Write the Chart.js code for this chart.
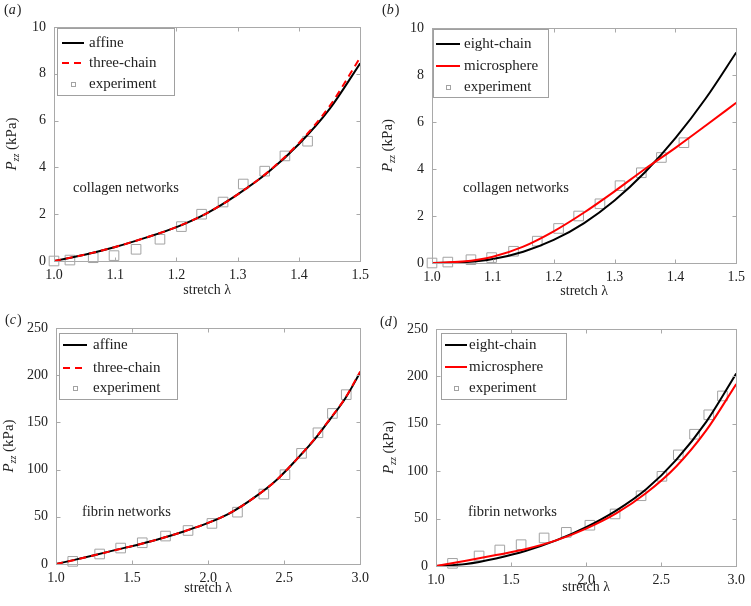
<!DOCTYPE html>
<html>
<head>
<meta charset="utf-8">
<script src="https://cdn.jsdelivr.net/npm/chart.js@4.4.0/dist/chart.umd.min.js"></script>
<style>
  body { margin: 0; background: #fff; width: 751px; height: 606px; position: relative; overflow: hidden; }
  canvas { position: absolute; }
</style>
</head>
<body>
<canvas id="pa" width="375" height="300" style="left:0;top:0"></canvas>
<canvas id="pb" width="376" height="300" style="left:375px;top:0"></canvas>
<canvas id="pc" width="375" height="306" style="left:0;top:300px"></canvas>
<canvas id="pd" width="376" height="306" style="left:375px;top:300px"></canvas>
<script>
// collagen networks (a, b)
const colStretchExp = [1.0, 1.026, 1.064, 1.098, 1.134, 1.173, 1.208, 1.241, 1.276, 1.309, 1.344, 1.377, 1.414];
const colExp = [0.0, 0.04, 0.14, 0.23, 0.5, 0.93, 1.47, 2.0, 2.52, 3.29, 3.84, 4.49, 5.12];
const colStretch = [1.0, 1.05, 1.1, 1.15, 1.2, 1.25, 1.3, 1.35, 1.4, 1.45, 1.5];
const colAffine = [0, 0.27, 0.6, 1.0, 1.45, 2.05, 2.85, 3.8, 5.0, 6.5, 8.45];
const colThreeChain = [0, 0.27, 0.6, 1.0, 1.45, 2.05, 2.85, 3.82, 5.05, 6.62, 8.7];
const colEightChain = [0, 0.03, 0.17, 0.48, 0.98, 1.7, 2.66, 3.86, 5.31, 7.01, 8.96];
const colMicrosphere = [0, 0.06, 0.27, 0.7, 1.35, 2.15, 3.05, 4.0, 4.9, 5.85, 6.82];

// fibrin networks (c, d)
const fibStretchExp = [1.11, 1.287, 1.425, 1.567, 1.72, 1.868, 2.025, 2.193, 2.366, 2.505, 2.614, 2.722, 2.817, 2.908];
const fibExp = [2.8, 10.6, 16.9, 22.5, 29.6, 35.5, 43.0, 54.9, 74.1, 94.6, 117.2, 139.0, 159.5, 179.4];
const fibStretch = [1.0, 1.1, 1.25, 1.4, 1.55, 1.7, 1.85, 2.0, 2.15, 2.3, 2.45, 2.6, 2.7, 2.8, 2.9, 3.0];
const fibAffine = [0, 3.6, 9.3, 15.2, 21, 27.5, 35, 43.5, 54.5, 70, 89, 114, 132, 153, 175, 203];
const fibThreeChain = [0, 3.5, 9.2, 15.1, 21, 27.5, 35, 43.6, 54.6, 70, 89, 114, 132.5, 153.5, 175.5, 204];
const fibStretchModel = [1.0, 1.2, 1.4, 1.6, 1.8, 2.0, 2.2, 2.4, 2.6, 2.8, 3.0];
const fibEightChain = [0, 2.2, 8, 16, 27, 41, 58.5, 81, 112, 152, 203];
const fibMicrosphere = [0, 5.5, 11.5, 18, 27, 39.5, 55.5, 77, 105, 143, 192];

const SERIF = "'Liberation Serif', 'Times New Roman', serif";
const TXT = '#222';

const pts = (xs, ys) => xs.map((x, i) => ({ x: x, y: ys[i] }));

function curve(label, xs, ys, color, dash, order) {
  return {
    label: label, data: pts(xs, ys), borderColor: color, borderWidth: 2,
    borderDash: dash, pointRadius: 0, cubicInterpolationMode: 'monotone', order: order
  };
}
function expSet(xs, ys) {
  return {
    label: 'experiment', data: pts(xs, ys), showLine: false, pointStyle: 'rect',
    pointRadius: 6.8, borderColor: '#a3a3a3', borderWidth: 1,
    backgroundColor: 'rgba(0,0,0,0)', clip: false, order: 2
  };
}

// box, inward ticks, y title, panel letter, note and legend
const panelPlugin = {
  id: 'panel',
  afterDraw(chart, args, o) {
    const ctx = chart.ctx, a = chart.chartArea;
    const xs = chart.scales.x, ys = chart.scales.y;
    ctx.save();
    ctx.strokeStyle = '#a9a9a9';
    ctx.lineWidth = 1;
    const L = Math.round(a.left) + 0.5, R = Math.round(a.right) + 0.5;
    const T = Math.round(a.top) + 0.5, B = Math.round(a.bottom) + 0.5;
    ctx.strokeRect(L, T, R - L, B - T);
    ctx.beginPath();
    xs.ticks.forEach(t => {
      const p = Math.round(xs.getPixelForValue(t.value)) + 0.5;
      ctx.moveTo(p, B); ctx.lineTo(p, B - 4);
      ctx.moveTo(p, T); ctx.lineTo(p, T + 4);
    });
    ys.ticks.forEach(t => {
      const p = Math.round(ys.getPixelForValue(t.value)) + 0.5;
      ctx.moveTo(L, p); ctx.lineTo(L + 4, p);
      ctx.moveTo(R, p); ctx.lineTo(R - 4, p);
    });
    ctx.stroke();

    ctx.fillStyle = TXT;
    // y title: P_zz (kPa)
    ctx.save();
    ctx.translate(o.yTitleX, (a.top + a.bottom) / 2);
    ctx.rotate(-Math.PI / 2);
    ctx.textBaseline = 'alphabetic';
    const fP = 'italic 15px ' + SERIF, fS = 'italic 10px ' + SERIF, fU = '15px ' + SERIF;
    ctx.font = fP; const wP = ctx.measureText('P').width;
    ctx.font = fS; const wS = ctx.measureText('zz').width;
    ctx.font = fU; const wU = ctx.measureText(' (kPa)').width;
    let x0 = -(wP + wS + wU) / 2;
    ctx.font = fP; ctx.fillText('P', x0, 5); x0 += wP;
    ctx.font = fS; ctx.fillText('zz', x0, 8); x0 += wS;
    ctx.font = fU; ctx.fillText(' (kPa)', x0, 5);
    ctx.restore();

    // panel letter
    ctx.textBaseline = 'middle';
    ctx.textAlign = 'left';
    let lx = o.letter.x;
    ctx.font = '14px ' + SERIF; ctx.fillText('(', lx, o.letter.y); lx += ctx.measureText('(').width;
    ctx.font = 'italic 14px ' + SERIF; ctx.fillText(o.letter.t, lx, o.letter.y); lx += ctx.measureText(o.letter.t).width + 1;
    ctx.font = '14px ' + SERIF; ctx.fillText(')', lx, o.letter.y);

    // note
    ctx.font = '14.5px ' + SERIF;
    ctx.fillText(o.note.t, o.note.x, o.note.y);

    // legend
    const g = o.legend;
    ctx.fillStyle = '#fff';
    ctx.fillRect(g.x0 + 0.5, g.y0 + 0.5, g.x1 - g.x0, g.y1 - g.y0);
    ctx.strokeStyle = '#a0a0a0';
    ctx.strokeRect(g.x0 + 0.5, g.y0 + 0.5, g.x1 - g.x0, g.y1 - g.y0);
    ctx.font = '15px ' + SERIF;
    chart.data.datasets.forEach((d, i) => {
      const y = g.rows[i];
      if (d.showLine === false) {
        const cx = Math.round((g.l0 + g.l1) / 2);
        ctx.strokeStyle = d.borderColor;
        ctx.lineWidth = 1;
        ctx.setLineDash([]);
        ctx.strokeRect(cx - 2 + 0.5, y - 2 + 0.5, 4, 4);
      } else {
        ctx.strokeStyle = d.borderColor;
        ctx.lineWidth = 2;
        ctx.setLineDash(d.borderDash || []);
        ctx.beginPath(); ctx.moveTo(g.l0, y); ctx.lineTo(g.l1, y); ctx.stroke();
        ctx.setLineDash([]);
      }
      ctx.fillStyle = TXT;
      ctx.fillText(d.label, g.tx, y);
    });
    ctx.restore();
  }
};

function makePanel(id, p) {
  const tickFont = { family: SERIF, size: 14 };
  new Chart(document.getElementById(id), {
    type: 'line',
    data: { datasets: p.datasets },
    options: {
      responsive: false, animation: false, devicePixelRatio: 1,
      layout: { padding: { left: 0, right: p.padR, top: p.padT, bottom: 0 } },
      plugins: { legend: { display: false }, tooltip: { enabled: false }, panel: p.panel },
      scales: {
        x: {
          type: 'linear', min: p.xMin, max: p.xMax,
          ticks: { stepSize: p.xStep, callback: v => v.toFixed(1), font: tickFont, color: TXT, padding: 6, maxRotation: 0, autoSkip: false },
          grid: { display: false, drawTicks: false }, border: { display: false },
          title: { display: true, text: 'stretch λ', font: tickFont, color: TXT, padding: { top: 0, bottom: p.xTitlePad } },
          afterFit: s => { s.height = p.xH; }
        },
        y: {
          type: 'linear', min: 0, max: p.yMax,
          ticks: { stepSize: p.yStep, font: tickFont, color: TXT, padding: 8 },
          grid: { display: false, drawTicks: false }, border: { display: false },
          afterFit: s => { s.width = p.yW; }
        }
      }
    },
    plugins: [panelPlugin]
  });
}

makePanel('pa', {
  datasets: [
    curve('affine', colStretch, colAffine, '#000', [], 1),
    curve('three-chain', colStretch, colThreeChain, '#ff0000', [7, 5], 0),
    expSet(colStretchExp, colExp)
  ],
  xMin: 1.0, xMax: 1.5, xStep: 0.1, yMax: 10, yStep: 2,
  padR: 13, padT: 27, xH: 39, yW: 54, xTitlePad: 1.6,
  panel: {
    yTitleX: 11, letter: { t: 'a', x: 4, y: 10 },
    note: { t: 'collagen networks', x: 73, y: 188 },
    legend: { x0: 57, y0: 28, x1: 174, y1: 95, rows: [43, 63, 84], l0: 62, l1: 84, tx: 89 }
  }
});

makePanel('pb', {
  datasets: [
    curve('eight-chain', colStretch, colEightChain, '#000', [], 1),
    curve('microsphere', colStretch, colMicrosphere, '#ff0000', [], 0),
    expSet(colStretchExp, colExp)
  ],
  xMin: 1.0, xMax: 1.5, xStep: 0.1, yMax: 10, yStep: 2,
  padR: 10, padT: 28, xH: 37, yW: 57, xTitlePad: 0,
  panel: {
    yTitleX: 12, letter: { t: 'b', x: 7, y: 10 },
    note: { t: 'collagen networks', x: 88, y: 188 },
    legend: { x0: 58, y0: 29, x1: 173, y1: 97, rows: [44, 66, 87], l0: 61, l1: 85, tx: 89 }
  }
});

makePanel('pc', {
  datasets: [
    curve('affine', fibStretch, fibAffine, '#000', [], 1),
    curve('three-chain', fibStretch, fibThreeChain, '#ff0000', [7, 5], 0),
    expSet(fibStretchExp, fibExp)
  ],
  xMin: 1.0, xMax: 3.0, xStep: 0.5, yMax: 250, yStep: 50,
  padR: 14, padT: 28, xH: 42, yW: 56, xTitlePad: 9.6,
  panel: {
    yTitleX: 8, letter: { t: 'c', x: 5, y: 20 },
    note: { t: 'fibrin networks', x: 82, y: 212 },
    legend: { x0: 59, y0: 33, x1: 177, y1: 99, rows: [45, 68, 88], l0: 63, l1: 87, tx: 93 }
  }
});

makePanel('pd', {
  datasets: [
    curve('eight-chain', fibStretchModel, fibEightChain, '#000', [], 1),
    curve('microsphere', fibStretchModel, fibMicrosphere, '#ff0000', [], 0),
    expSet(fibStretchExp, fibExp)
  ],
  xMin: 1.0, xMax: 3.0, xStep: 0.5, yMax: 250, yStep: 50,
  padR: 10, padT: 29, xH: 40, yW: 61, xTitlePad: 10.6,
  panel: {
    yTitleX: 13, letter: { t: 'd', x: 5, y: 22 },
    note: { t: 'fibrin networks', x: 93, y: 212 },
    legend: { x0: 66, y0: 33, x1: 191, y1: 99, rows: [45, 67, 88], l0: 70, l1: 92, tx: 94 }
  }
});
</script>
</body>
</html>
